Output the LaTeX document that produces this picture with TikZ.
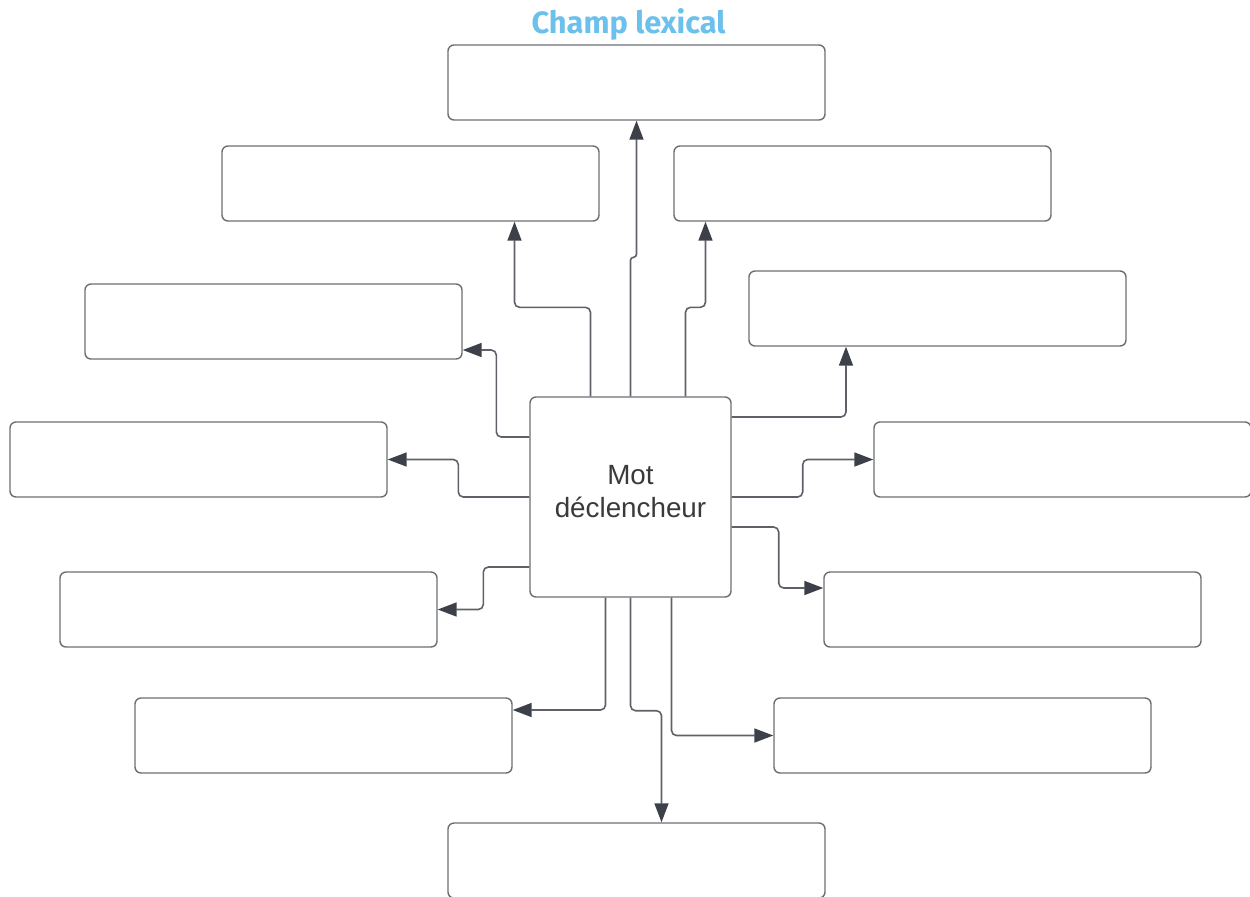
\documentclass[tikz,border=0pt]{standalone}
\usepackage{fontspec}
\setmainfont{Liberation Sans}
\newfontfamily\titlefont{Fira Sans}
\usetikzlibrary{arrows.meta,calc}

\definecolor{boxline}{HTML}{6B6E73}
\definecolor{linkline}{HTML}{5E6268}
\definecolor{tipfill}{HTML}{3B4049}
\definecolor{titleblue}{HTML}{6CC0EC}
\definecolor{wordgray}{HTML}{3A3A3A}

\begin{document}
\begin{tikzpicture}[
  x=0.5pt, y=-0.5pt,
  field/.style={draw=boxline, line width=0.7pt, rounded corners=3pt, inner sep=0pt,
    minimum width=188.5pt, minimum height=37.5pt},
  trigger/.style={draw=boxline, line width=0.7pt, rounded corners=3pt, inner sep=0pt,
    minimum width=100.5pt, minimum height=100pt},
  word/.style={align=center, text=wordgray, inner sep=0pt,
    font=\fontsize{13.9pt}{16.5pt}\selectfont},
  link/.style={draw=linkline, line width=0.8pt, rounded corners=2.5pt,
    -{Triangle[length=9.5pt, width=7pt, fill=tipfill, color=tipfill]}}
]
\useasboundingbox (0,0) rectangle (1250,896);

% title
\node[anchor=base, text=titleblue, font=\titlefont\bfseries\fontsize{15.4pt}{18pt}\selectfont]
  (title) at (628.5,33) {Champ lexical};

% centre word
\node[trigger] (mot) at (630.5,497) {};
\node[word] (motword) at ($(mot.center)+(0,-5)$) {Mot\\déclencheur};

% boxes round it
\node[field] (top) at (636.5,82.5) {};
\node[field] (ul) at (410.5,183.5) {};
\node[field] (ur) at (862.5,183.5) {};
\node[field] (l1) at (273.5,321.5) {};
\node[field] (r1) at (937.5,308.5) {};
\node[field] (l2) at (198.5,459.5) {};
\node[field] (r2) at (1062.5,459.5) {};
\node[field] (l3) at (248.5,609.5) {};
\node[field] (r3) at (1012.5,609.5) {};
\node[field] (l4) at (323.5,735.5) {};
\node[field] (r4) at (962.5,735.5) {};
\node[field] (bot) at (636.5,860.5) {};

% connectors, top side
\draw[link, rounded corners=1.5pt] (mot.north) -- ++(0,-139) -| (top.south);
\draw[link] ($(mot.north)+(-40,0)$) -- ++(0,-89) -| ($(ul.south)+(104,0)$);
\draw[link] ($(mot.north)+(55,0)$) -- ++(0,-89) -| ($(ur.south)+(-157,0)$);

% left side
\draw[link] ($(mot.west)+(0,-60)$) -- ++(-33,0) |- ($(l1.east)+(0,28.5)$);
\draw[link] (mot.west) -- ++(-71,0) |- (l2.east);
\draw[link] ($(mot.west)+(0,70)$) -- ++(-46,0) |- (l3.east);

% right side
\draw[link] ($(mot.east)+(0,-80)$) -| ($(r1.south)+(-91.5,0)$);
\draw[link] (mot.east) -- ++(71,0) |- (r2.west);
\draw[link] ($(mot.east)+(0,30)$) -- ++(47,0) |- ($(r3.west)+(0,-21.5)$);

% bottom side
\draw[link] ($(mot.south)+(-25,0)$) |- ($(l4.east)+(0,-25.5)$);
\draw[link] (mot.south) -- ++(0,113) -| ($(bot.north)+(25,0)$);
\draw[link] ($(mot.south)+(41,0)$) |- (r4.west);
\end{tikzpicture}
\end{document}
